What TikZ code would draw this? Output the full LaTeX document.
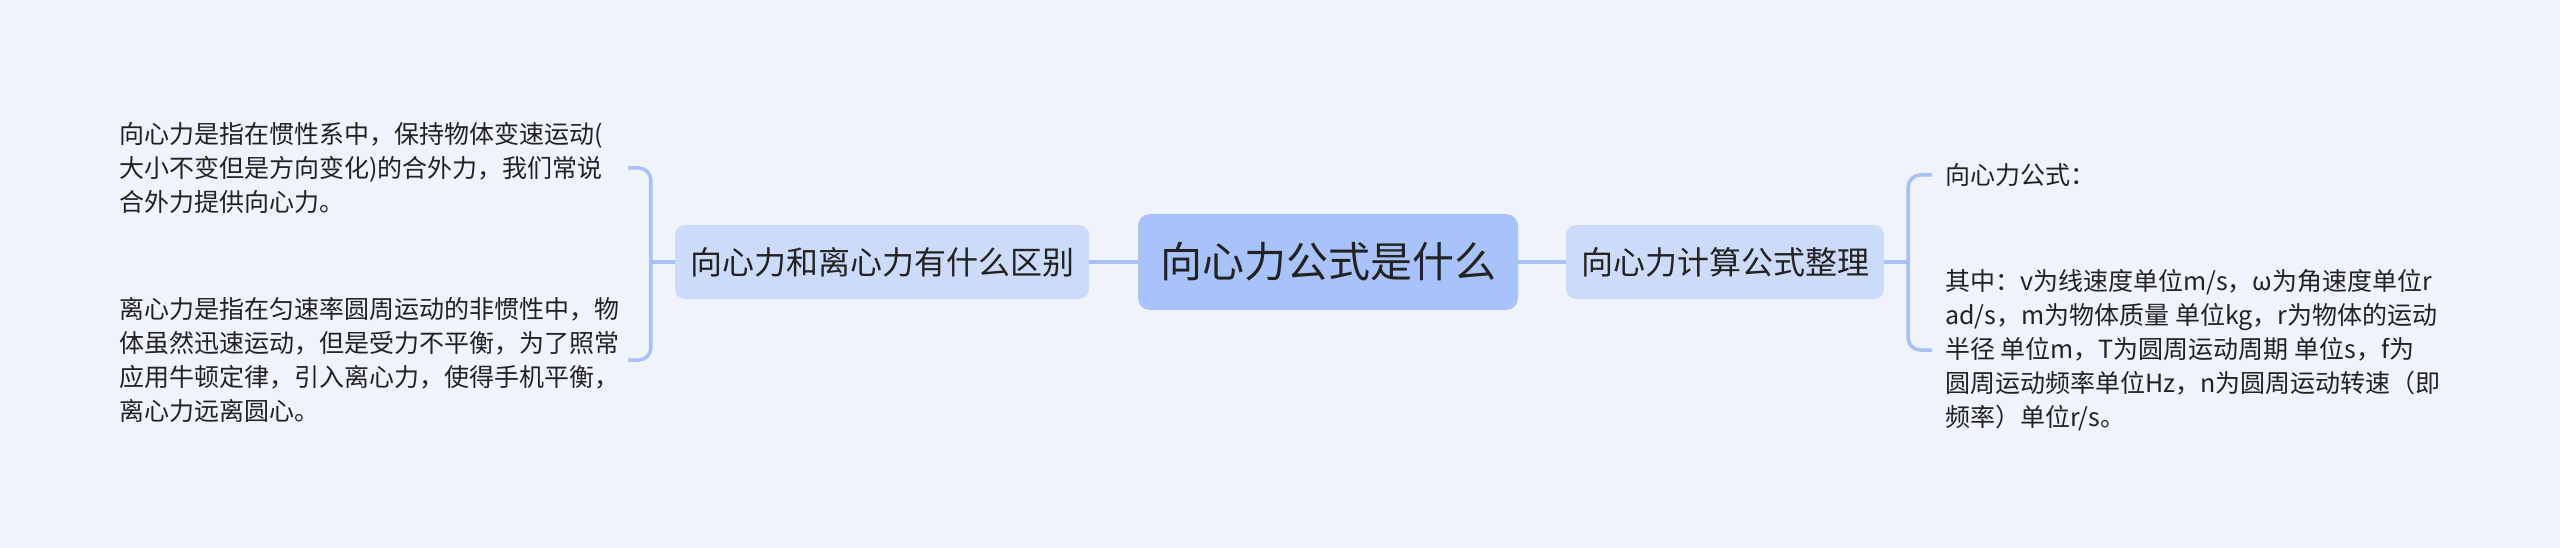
\documentclass[tikz,border=0pt]{standalone}
\usepackage{fontspec}
\setmainfont{Noto Sans CJK SC}
\definecolor{paper}{RGB}{239,243,251}
\definecolor{rootblue}{RGB}{168,194,250}
\definecolor{subblue}{RGB}{204,219,250}
\definecolor{linkblue}{RGB}{168,192,245}
\definecolor{ink}{RGB}{34,34,34}

\tikzset{
  root/.style={fill=rootblue, rounded corners=12pt, inner xsep=22pt, minimum height=96pt,
    text=ink, font=\fontsize{42}{50}\selectfont},
  topic/.style={fill=subblue, rounded corners=10pt, inner xsep=15pt, minimum height=74pt,
    text=ink, font=\fontsize{32}{38}\selectfont},
  leaf/.style={align=left, inner ysep=0pt, anchor=west, text=ink,
    font=\fontsize{25}{34}\selectfont},
  link/.style={draw=linkblue, line width=3.5pt},
}

\begin{document}
\begin{tikzpicture}[x=1pt,y=-1pt]
        \useasboundingbox (0,0) rectangle (2560,548);
        \fill [paper] (0,0) rectangle (2560,548);

        \node[root] (root) at (1328,262) {向心力公式是什么};
        \node[topic] (diff) at (882,262) {向心力和离心力有什么区别};
        \node[topic] (formula) at (1725,262) {向心力计算公式整理};

        % left side: the two definitions
        \node[leaf, inner xsep=0pt, text width=509pt] (centri) at (119,168)
        {向心力是指在惯性系中，保持物体变速运动(\\
        大小不变但是方向变化)的合外力，我们常说\\
        合外力提供向心力。};
        \node[leaf, inner xsep=0pt, text width=509pt] (centrif) at (119,360)
        {离心力是指在匀速率圆周运动的非惯性中，物\\
        体虽然迅速运动，但是受力不平衡，为了照常\\
        应用牛顿定律，引入离心力，使得手机平衡，\\
        离心力远离圆心。};

        % right side: formula and units
        \node[leaf, inner xsep=13pt] (fml) at (1932,175) {向心力公式：};
        \node[leaf, inner xsep=13pt] (units) at (1932,350)
        {其中：v为线速度单位m/s，ω为角速度单位r\\
        ad/s，m为物体质量 单位kg，r为物体的运动\\
        半径 单位m，T为圆周运动周期 单位s，f为\\
        圆周运动频率单位Hz，n为圆周运动转速（即\\
        频率）单位r/s。};

        \draw[link] (root) -- (diff);
        \draw[link] (root) -- (formula);
        \draw[link] (diff.west) -- ++(-24,0) coordinate (lfork);
        \draw[link, rounded corners=12pt] (centri.east) -| (lfork) |- (centrif.east);
        \draw[link] (formula.east) -- ++(24,0) coordinate (rfork);
        \draw[link, rounded corners=12pt] (fml.west) -| (rfork) |- (units.west);
\end{tikzpicture}
\end{document}
